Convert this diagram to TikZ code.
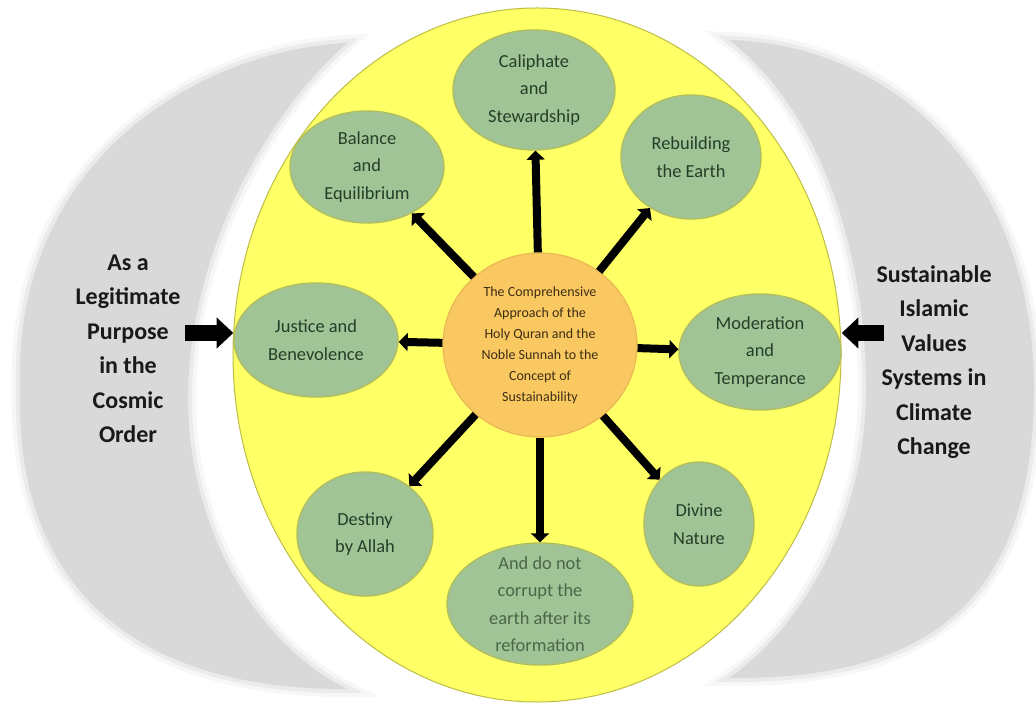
\documentclass[tikz,border=0pt]{standalone}
\usepackage{fontspec}
\setmainfont{Carlito}
\usepackage{tikz}
\usetikzlibrary{shapes,arrows.meta}

\definecolor{moongray}{RGB}{217,217,217}
\definecolor{platefill}{RGB}{255,255,102}
\definecolor{plateline}{RGB}{190,190,70}
\definecolor{leaffill}{RGB}{160,196,150}
\definecolor{leafline}{RGB}{176,190,96}
\definecolor{leafink}{RGB}{38,62,40}
\definecolor{corefill}{RGB}{250,200,96}
\definecolor{coreline}{RGB}{236,182,84}
\definecolor{coreink}{RGB}{62,46,22}
\definecolor{sideink}{RGB}{25,25,25}

\tikzset{
  moon/.style={fill=moongray, line join=round,
    preaction={draw=moongray, opacity=.2, line width=8pt},
    preaction={draw=moongray, opacity=.4, line width=4pt}},
  plate/.style={ellipse, draw=plateline, line width=.5pt, fill=platefill, inner sep=0pt},
  core/.style={ellipse, draw=coreline, line width=.6pt, fill=corefill, inner sep=0pt},
  coretext/.style={align=center, text=coreink, inner sep=0pt,
    font=\fontsize{7}{10.5}\selectfont},
  leaf/.style={ellipse, draw=leafline, line width=.7pt, fill=leaffill, inner sep=0pt},
  leaftext/.style={align=center, text=leafink, inner sep=0pt,
    font=\fontsize{9.2}{13.75}\selectfont},
  side/.style={align=center, text=sideink, inner sep=0pt,
    font=\fontsize{12}{17.25}\selectfont\bfseries},
  spoke/.style={line width=4pt, -{Triangle[width=9pt,length=4.5pt]}},
  push/.style={line width=8.3pt, -{Triangle[width=15pt,length=8.3pt]}}
}

\begin{document}
\begin{tikzpicture}[x=0.5pt,y=-0.5pt]
\useasboundingbox (0,0) rectangle (1036,704);
\fill[white] (0,0) rectangle (1036,704);

% the two grey moons
\path[moon] (347,43) .. controls (200,50) and (12,160) .. (20,390)
  .. controls (15,600) and (150,690) .. (347,689)
  .. controls (250,640) and (188,520) .. (188,400)
  .. controls (188,260) and (260,120) .. (347,43) -- cycle;
\path[moon] (729,40) .. controls (900,45) and (1030,180) .. (1034,380)
  .. controls (1036,600) and (930,680) .. (729,678)
  .. controls (800,630) and (866,520) .. (866,390)
  .. controls (866,250) and (820,110) .. (729,40) -- cycle;

\node[side] (purpose) at (128,349) {As a\\Legitimate\\Purpose\\in the\\Cosmic\\Order};
\node[side] (values) at (934,362) {Sustainable\\Islamic\\Values\\Systems in\\Climate\\Change};

\node[plate, minimum width=304pt, minimum height=347pt] (plate) at (537,355) {};

\node[core, minimum width=97pt, minimum height=92pt,
  label={[coretext]center:The Comprehensive\\Approach of the\\Holy Quran and the\\Noble Sunnah to the\\Concept of\\Sustainability}] (core) at (540,345) {};

\node[leaf, minimum width=81pt, minimum height=60pt,
  label={[leaftext]center:Caliphate\\and\\Stewardship}] (cal) at (534,90) {};
\node[leaf, minimum width=70pt, minimum height=62pt,
  label={[leaftext]center:Rebuilding\\the Earth}] (reb) at (691,157) {};
\node[leaf, minimum width=77pt, minimum height=56pt,
  label={[leaftext]center:Balance\\and\\Equilibrium}] (bal) at (367,167) {};
\node[leaf, minimum width=82pt, minimum height=57pt,
  label={[leaftext]center:Justice and\\Benevolence}] (jus) at (316,340) {};
\node[leaf, minimum width=81pt, minimum height=58pt,
  label={[leaftext]center:Moderation\\and\\Temperance}] (mod) at (760,352) {};
\node[leaf, minimum width=68pt, minimum height=62pt,
  label={[leaftext]center:Destiny\\by Allah}] (des) at (365,534) {};
\node[leaf, minimum width=55pt, minimum height=62pt,
  label={[leaftext]center:Divine\\Nature}] (div) at (699,524) {};
\node[leaf, minimum width=93pt, minimum height=61pt,
  label={[leaftext, text=leafink!70!leaffill]center:And do not\\corrupt the\\earth after its\\reformation}] (cor) at (540,604) {};

\draw[spoke] (core) -- (cal);
\draw[spoke] (core) -- (reb);
\draw[spoke] (core) -- (bal);
\draw[spoke] (core) -- (jus);
\draw[spoke] (core) -- (mod);
\draw[spoke] (core) -- (des);
\draw[spoke] (core) -- (div);
\draw[spoke] (core) -- (cor);

\coordinate (pin) at (185,333);
\coordinate (vin) at (884,333);
\draw[push] (pin) -- (jus.west |- pin);
\draw[push] (vin) -- (mod.east |- vin);
\end{tikzpicture}
\end{document}
